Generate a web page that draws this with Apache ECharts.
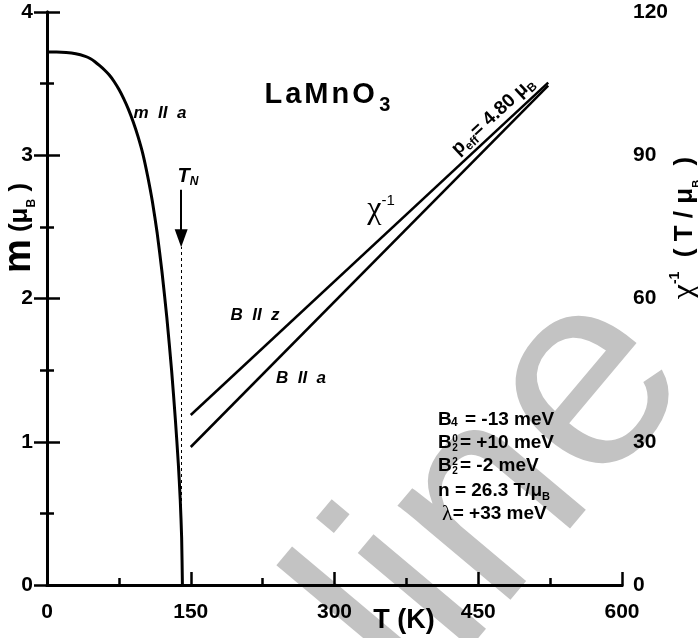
<!DOCTYPE html>
<html>
<head>
<meta charset="utf-8">
<script src="https://cdn.jsdelivr.net/npm/echarts@6/dist/echarts.min.js"></script>
<style>
html, body { margin: 0; padding: 0; background: #fff; }
#chart { width: 698px; height: 638px; }
</style>
</head>
<body>
<div id="chart"></div>
<script>
// m || a (T in K, m in muB)
const mTemp = [0, 10, 20, 30, 40, 45, 50, 55, 60, 65, 70, 75, 80, 85, 90, 95, 100, 105, 110, 115, 120, 125, 130, 134, 137, 139, 140.5, 141.3];
const mValue = [3.72, 3.72, 3.717, 3.708, 3.69, 3.675, 3.653, 3.625, 3.595, 3.56, 3.515, 3.46, 3.395, 3.32, 3.232, 3.13, 3.01, 2.855, 2.675, 2.455, 2.185, 1.87, 1.50, 1.15, 0.85, 0.60, 0.33, 0];

// inverse susceptibility above T_N (T/muB)
const chiTemp = [150, 523];
const chiZ = [35.6, 105.2];
const chiA = [28.9, 104.6];

// Neel temperature marker
const tN = 140;
const tNArrow = [2.76, 2.42];

const FONT = '"Liberation Sans", Arial, sans-serif';
const SERIF = '"Liberation Serif", "Times New Roman", serif';

const chart = echarts.init(document.getElementById('chart'));

function pairs(xs, ys) {
    return xs.map((x, i) => [x, ys[i]]);
}

function txt(x, y, text, style, extra) {
    return Object.assign({
        type: 'text', x: x, y: y, silent: true, z: 10,
        style: Object.assign({
            text: text, fontFamily: FONT, fontWeight: 'bold', fontSize: 19,
            fill: '#000', align: 'left', verticalAlign: 'middle'
        }, style)
    }, extra);
}

const axisBase = {
    axisLine: { show: true, lineStyle: { color: '#000', width: 3 } },
    axisTick: { show: true, inside: true, length: 13, lineStyle: { color: '#000', width: 2.5 } },
    minorTick: { show: true, splitNumber: 2, length: 7, lineStyle: { color: '#000', width: 2.5 } },
    axisLabel: { color: '#000', fontFamily: FONT, fontWeight: 'bold', fontSize: 21 },
    splitLine: { show: false }
};

const subB = { fontFamily: FONT, fontWeight: 'bold', fontSize: 11, lineHeight: 12, verticalAlign: 'bottom' };

chart.setOption({
    animation: false,
    backgroundColor: '#fff',
    grid: { left: 47, right: 76, top: 12, bottom: 53 },
    xAxis: [
        Object.assign({}, axisBase, {
            type: 'value', min: 0, max: 600, interval: 150,
            axisLabel: Object.assign({}, axisBase.axisLabel, { margin: 17 })
        }),
        {
            type: 'value', position: 'top', min: 0, max: 600,
            axisLine: { show: true, lineStyle: { color: '#000', width: 3 } },
            axisTick: { show: false }, axisLabel: { show: false }, splitLine: { show: false }
        }
    ],
    yAxis: [
        Object.assign({}, axisBase, {
            type: 'value', min: 0, max: 4, interval: 1,
            axisLabel: Object.assign({}, axisBase.axisLabel, { margin: 14 })
        }),
        Object.assign({}, axisBase, {
            type: 'value', position: 'right', min: 0, max: 120, interval: 30,
            axisLabel: Object.assign({}, axisBase.axisLabel, { margin: 11 })
        })
    ],
    series: [
        {
            name: 'm', type: 'line', data: pairs(mTemp, mValue), showSymbol: false, smooth: 0.2,
            lineStyle: { color: '#000', width: 3 }, z: 3,
            markLine: {
                silent: true, animation: false, symbol: 'none', label: { show: false },
                data: [
                    [{ coord: [tN, 0], lineStyle: { color: '#000', width: 1, type: [3, 3] } }, { coord: [tN, 2.36] }],
                    [{ coord: [tN, tNArrow[0]], lineStyle: { color: '#000', width: 2, type: 'solid' } },
                     { coord: [tN, tNArrow[1]], symbol: 'triangle', symbolSize: [13, 18] }]
                ]
            }
        },
        {
            name: 'B || z', type: 'line', yAxisIndex: 1, data: pairs(chiTemp, chiZ), showSymbol: false,
            lineStyle: { color: '#000', width: 2.5 }
        },
        {
            name: 'B || a', type: 'line', yAxisIndex: 1, data: pairs(chiTemp, chiA), showSymbol: false,
            lineStyle: { color: '#000', width: 2.5 }
        }
    ],
    graphic: [
        // watermark
        {
            type: 'text', x: 499, y: 494, rotation: 50 * Math.PI / 180, z: -10, silent: true,
            style: { text: 'line', fontFamily: FONT, fontSize: 278, fill: '#c3c3c3', align: 'center', verticalAlign: 'middle' }
        },
        // axis names
        txt(20, 228, '{m|m}{p| (}{u|μ}{s|B}{p| )}', {
            align: 'center',
            rich: {
                m: { fontFamily: FONT, fontWeight: 'bold', fontSize: 38, lineHeight: 36 },
                p: { fontFamily: FONT, fontWeight: 'bold', fontSize: 26, lineHeight: 36 },
                u: { fontFamily: FONT, fontWeight: 'bold', fontSize: 26, lineHeight: 36 },
                s: { fontFamily: FONT, fontWeight: 'bold', fontSize: 12, lineHeight: 14, verticalAlign: 'bottom' }
            }
        }, { rotation: Math.PI / 2 }),
        txt(685, 228, '{c|χ}{e|-1}{p|  ( T / μ}{s|B}{p|  )}', {
            align: 'center',
            rich: {
                c: { fontFamily: SERIF, fontSize: 34, lineHeight: 34 },
                e: { fontFamily: FONT, fontWeight: 'bold', fontSize: 14, lineHeight: 16, verticalAlign: 'top' },
                p: { fontFamily: FONT, fontWeight: 'bold', fontSize: 26, lineHeight: 34 },
                s: { fontFamily: FONT, fontWeight: 'bold', fontSize: 11, lineHeight: 13, verticalAlign: 'bottom' }
            }
        }, { rotation: Math.PI / 2 }),
        txt(404, 621, 'T (K)', { fontSize: 27, align: 'center' }),
        // annotations
        txt(263, 95, '{c|L}{c|a}{c|M}{c|n}{c|O}{s|3}', {
            rich: {
                c: { fontFamily: FONT, fontWeight: 'bold', fontSize: 29, lineHeight: 40, padding: [0, 1.5, 0, 1.5] },
                s: { fontFamily: FONT, fontWeight: 'bold', fontSize: 20, lineHeight: 20, verticalAlign: 'bottom', padding: [0, 0, 0, 3] }
            }
        }),
        txt(160, 113, 'm  II  a', { fontStyle: 'italic', fontSize: 17, align: 'center' }),
        txt(188, 176, '{t|T}{n|N}', {
            align: 'center',
            rich: {
                t: { fontFamily: FONT, fontWeight: 'bold', fontStyle: 'italic', fontSize: 20, lineHeight: 24 },
                n: { fontFamily: FONT, fontWeight: 'bold', fontStyle: 'italic', fontSize: 12, lineHeight: 12, verticalAlign: 'bottom' }
            }
        }),
        txt(255, 315, 'B  II  z', { fontStyle: 'italic', fontSize: 17, align: 'center' }),
        txt(301, 378, 'B  II  a', { fontStyle: 'italic', fontSize: 17, align: 'center' }),
        txt(381, 210, '{c|χ}{e|-1}', {
            align: 'center',
            rich: {
                c: { fontFamily: SERIF, fontSize: 32, lineHeight: 34 },
                e: { fontFamily: FONT, fontSize: 15, lineHeight: 16, verticalAlign: 'top' }
            }
        }),
        txt(493, 116, '{b|p}{s|eff}{b|= 4.80 μ}{s|B}', {
            align: 'center',
            rich: {
                b: { fontFamily: FONT, fontWeight: 'bold', fontSize: 19, lineHeight: 24 },
                s: { fontFamily: FONT, fontWeight: 'bold', fontSize: 12, lineHeight: 12, verticalAlign: 'bottom' }
            }
        }, { rotation: 42.8 * Math.PI / 180 }),
        // crystal-field parameters
        txt(438, 420, 'B'),
        txt(451, 423, '4', { fontSize: 12 }),
        txt(465, 420, '= -13 meV'),
        txt(438, 443, 'B'),
        txt(455, 439, '0', { fontSize: 10, align: 'center' }),
        txt(455, 448, '2', { fontSize: 10, align: 'center' }),
        txt(460, 443, '= +10 meV'),
        txt(438, 466, 'B'),
        txt(455, 462, '2', { fontSize: 10, align: 'center' }),
        txt(455, 471, '2', { fontSize: 10, align: 'center' }),
        txt(460, 466, '= -2 meV'),
        txt(438, 491, '{b|n = 26.3 T/μ}{s|B}', {
            rich: { b: { fontFamily: FONT, fontWeight: 'bold', fontSize: 19, lineHeight: 22 }, s: subB }
        }),
        txt(442, 514, '{l|λ}{b|= +33 meV}', {
            rich: {
                l: { fontFamily: SERIF, fontSize: 22, lineHeight: 22 },
                b: { fontFamily: FONT, fontWeight: 'bold', fontSize: 19, lineHeight: 22 }
            }
        })
    ]
});
</script>
</body>
</html>
